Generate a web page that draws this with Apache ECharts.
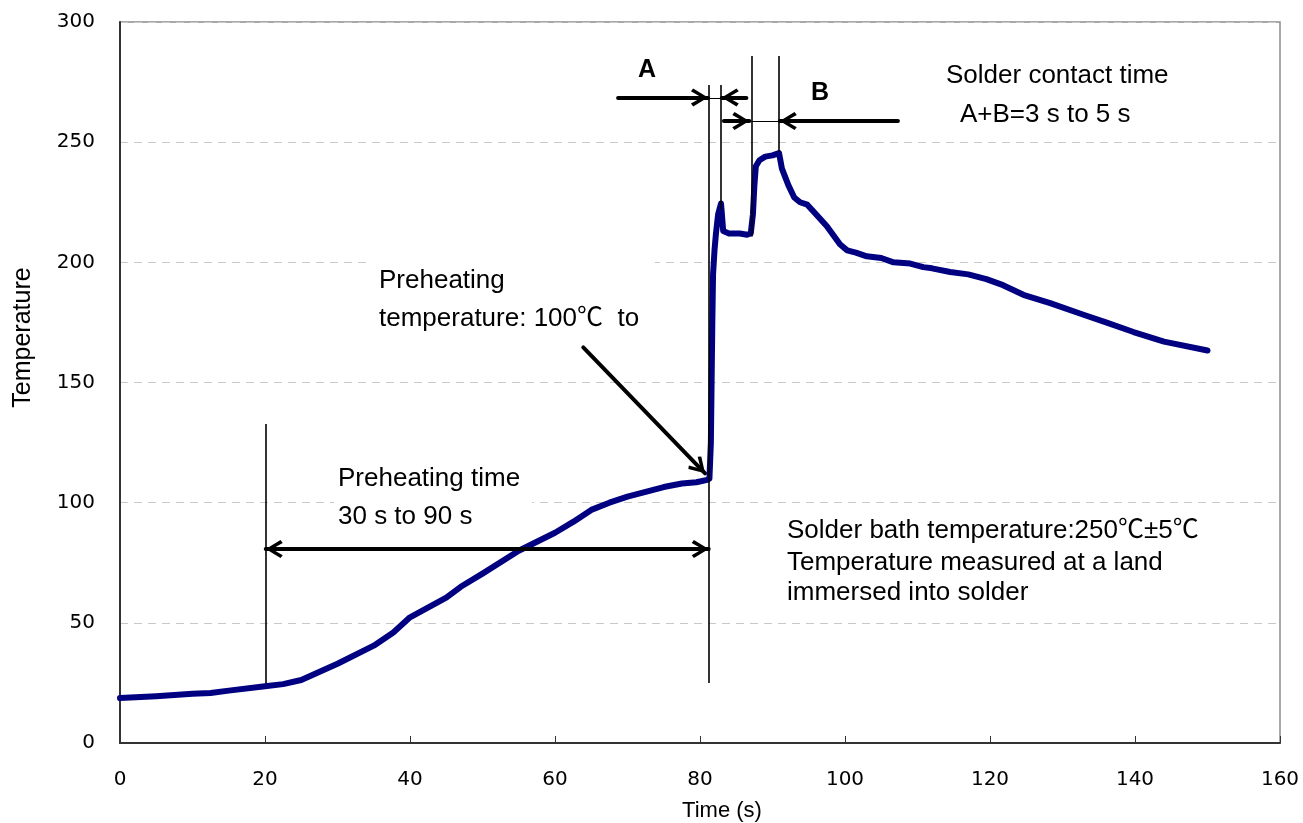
<!DOCTYPE html>
<html><head><meta charset="utf-8">
<script src="https://cdn.jsdelivr.net/npm/echarts@6/dist/echarts.min.js"></script>
<style>html,body{margin:0;padding:0;background:#fff}#c{width:1303px;height:823px}</style>
</head><body><div id="c"></div>
<script>
// Soldering temperature profile
const timeS = [0,5,10,12.5,15,20,22.5,25,30,35,37.7,40,45,47,50,55,60,62.5,65,67.5,70,72.5,75,77.5,79.5,81,81.3,81.5,81.6,81.7,81.8,82,82.2,82.5,82.9,83.2,84,85.5,86.5,87,87.3,87.5,87.7,88.2,89,90,90.9,91.3,92.2,93,93.8,94.8,96,97.5,99.3,100.3,101.5,103,105,106.7,109,110.8,112,114.5,117,119.5,121.8,124.6,128.3,132.9,136,139.8,144,150];
const tempC = [18.7,19.5,20.5,20.8,21.8,23.6,24.5,26.2,33,40.5,46,52.3,60.5,65,70.5,80,87.5,92,97,100,102.5,104.5,106.5,108,108.5,109.5,110,125,150,175,195,205,212,220,224.5,213,212,212,211.5,212,220,232,240,242.5,244,244.5,245.5,239,232,227,225,224,220,215,207.5,205,204,202.5,201.8,200,199.5,198,197.5,196,195,193,190.5,186.5,183,178.2,175,171,167,163.3];
const xTicks = [0,20,40,60,80,100,120,140,160];
const yTicks = [0,50,100,150,200,250,300];

// Annotation guide lines in data units: [x1, y1, x2, y2]
const guideLines = [
  [20.1, 24.8, 20.1, 132.7],
  [81.2, 25.0, 81.2, 273.8],
  [82.9, 222.0, 82.9, 273.8],
  [87.1, 210.7, 87.1, 285.9],
  [90.9, 246.0, 90.9, 285.9]
];
const connectorLines = [
  [81.2, 268.2, 82.9, 268.2],
  [87.1, 258.6, 90.9, 258.6]
];
// Arrows in data units: [x1, y1, x2, y2, doubleHeaded]
const arrows = [
  [20.1, 80.7, 81.2, 80.7, true],
  [68.7, 268.6, 81.1, 268.6, false],
  [86.4, 268.6, 83.0, 268.6, false],
  [83.3, 258.8, 86.8, 258.8, false],
  [107.3, 258.8, 91.0, 258.8, false],
  [63.9, 164.6, 80.7, 112.2, false]
];

const chevron = 'path://M50,-92 M50,0 L100,80 L84,92 L50,34 L16,92 L0,80 Z';
const chevSize = [18, 34];

const curve = timeS.map((t, i) => [t, tempC[i]]);

const mlData = [];
guideLines.forEach(l => mlData.push([
  {coord: [l[0], l[1]], symbol: 'none', lineStyle: {width: 1.6, color: '#000', type: 'solid'}},
  {coord: [l[2], l[3]], symbol: 'none'}
]));
connectorLines.forEach(l => mlData.push([
  {coord: [l[0], l[1]], symbol: 'none', lineStyle: {width: 1, color: '#000', type: 'solid'}},
  {coord: [l[2], l[3]], symbol: 'none'}
]));
arrows.forEach(a => mlData.push([
  {coord: [a[0], a[1]], symbol: a[4] ? chevron : 'none', symbolSize: chevSize, lineStyle: {width: 4, color: '#000', type: 'solid', cap: 'round'}},
  {coord: [a[2], a[3]], symbol: chevron, symbolSize: chevSize}
]));

const F = '"Liberation Sans", Arial, "Noto Sans CJK JP", sans-serif';
function txt(x, y, s, size, weight, pad) {
  const st = {text: s, fill: '#000', font: (weight || 'normal') + ' ' + size + 'px ' + F, textAlign: 'left', textVerticalAlign: 'middle', verticalAlign: 'middle'};
  let px = x;
  if (pad) { st.backgroundColor = '#fff'; st.padding = pad; px = x - pad[3]; }
  return {type: 'text', x: px, y: y, z: 50, silent: true, style: st};
}
function ctxt(x, y, s, size, weight) {
  const t = txt(x, y, s, size, weight); t.style.textAlign = 'center'; return t;
}

const chart = echarts.init(document.getElementById('c'), null, {renderer: 'canvas'});
chart.setOption({
  animation: false,
  backgroundColor: '#fff',
  grid: {left: 120, top: 22, width: 1160, height: 721, show: true, borderColor: '#8c8c8c', borderWidth: 1.5,
    containLabel: false, outerBoundsMode: 'none'},
  xAxis: {
    type: 'value', min: 0, max: 160, interval: 20,
    name: 'Time (s)', nameLocation: 'middle', nameGap: 57,
    nameTextStyle: {fontFamily: F, fontSize: 22, color: '#000', padding: [0, 0, 0, 44]},
    axisLine: {show: true, lineStyle: {color: '#333', width: 2}},
    axisTick: {show: true, inside: true, length: 7, lineStyle: {color: '#333', width: 1}},
    axisLabel: {margin: 27, fontFamily: '"DejaVu Sans", sans-serif', fontSize: 20, color: '#000',
      formatter: v => String(xTicks[xTicks.indexOf(v)])},
    splitLine: {show: false}
  },
  yAxis: {
    type: 'value', min: 0, max: 300, interval: 50,
    name: 'Temperature', nameLocation: 'middle', nameGap: 84, nameRotate: 90,
    nameTextStyle: {fontFamily: F, fontSize: 25, color: '#000', padding: [0, 0, 0, 90]},
    axisLine: {show: true, lineStyle: {color: '#333', width: 2}},
    axisTick: {show: false},
    axisLabel: {margin: 25, fontFamily: '"DejaVu Sans", sans-serif', fontSize: 20, color: '#000',
      formatter: v => String(yTicks[yTicks.indexOf(v)])},
    splitLine: {show: true, lineStyle: {color: '#c8c8c8', width: 1, type: [8, 6]}}
  },
  series: [
    {
      type: 'line', data: curve, showSymbol: false, symbol: 'none', silent: true, z: 3,
      lineStyle: {color: '#000080', width: 6, join: 'round', cap: 'round'}
    },
    {
      type: 'line', data: [], silent: true, z: 5,
      markLine: {silent: true, animation: false, symbol: ['none', 'none'], label: {show: false},
        emphasis: {disabled: true}, lineStyle: {color: '#000', type: 'solid'}, data: mlData}
    }
  ],
  graphic: [
    ctxt(647, 70, 'A', 25, 'bold'),
    ctxt(820, 93, 'B', 25, 'bold'),
    txt(946, 76, 'Solder contact time', 26),
    txt(960, 115, 'A+B=3 s to 5 s', 26),
    txt(379, 281, 'Preheating', 26, 'normal', [16, 150, 16, 8]),
    txt(379, 319, 'temperature: 100\u2103  to', 26),
    txt(338, 479, 'Preheating time', 26, 'normal', [18, 12, 18, 4]),
    txt(338, 517, '30 s to 90 s', 26),
    txt(787, 531, 'Solder bath temperature:250\u2103\u00b15\u2103', 26),
    txt(787, 563, 'Temperature measured at a land', 26),
    txt(787, 593, 'immersed into solder', 26)
  ]
});
</script></body></html>
